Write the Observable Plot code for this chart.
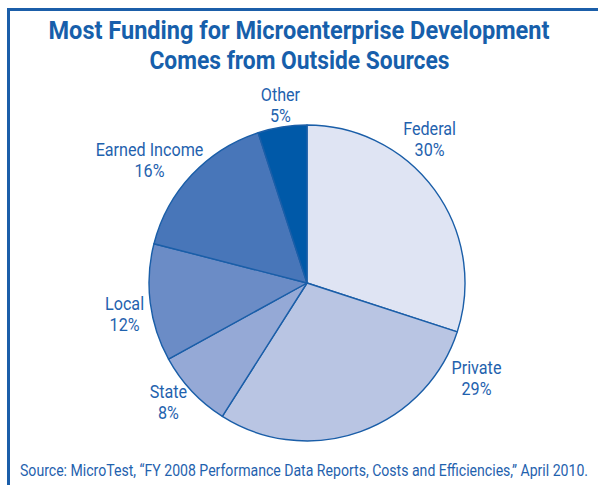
<!DOCTYPE html>
<html><head><meta charset="utf-8">
<script src="https://cdn.jsdelivr.net/npm/d3@7"></script>
<script src="https://cdn.jsdelivr.net/npm/@observablehq/plot@0.6"></script>
<style>
body{margin:0;background:#fff;}
#wrap{position:relative;width:598px;height:485px;overflow:hidden;font-family:Roboto,"DejaVu Sans Condensed",sans-serif;}
#frameTop{position:absolute;left:7px;top:8px;width:600px;height:3px;background:#1b5ea9;}
#frameLeft{position:absolute;left:7px;top:8px;width:3px;height:490px;background:#1b5ea9;}
.tl{position:absolute;left:0;width:598px;text-align:center;color:#175fab;font-weight:bold;font-size:26.5px;line-height:30px;white-space:nowrap;}
.tl span{display:inline-block;transform-origin:50% 50%;}
#chart{position:absolute;left:0;top:80px;}
#source{position:absolute;left:20px;top:461px;color:#1f62ae;font-size:16px;line-height:20px;white-space:nowrap;transform-origin:0 50%;}
</style></head>
<body>
<div id="wrap">
<div id="frameTop"></div><div id="frameLeft"></div>
<div class="tl" id="t1" style="top:15px"><span>Most Funding for Microenterprise Development</span></div>
<div class="tl" id="t2" style="top:45px"><span>Comes from Outside Sources</span></div>
<div id="chart"></div>
<div id="source">Source: MicroTest, “FY 2008 Performance Data Reports, Costs and Efficiencies,” April 2010.</div>
</div>
<script>
const categories = ["Federal", "Private", "State", "Local", "Earned Income", "Other"];
const values = [30, 29, 8, 12, 16, 5];
const colors = ["#dfe4f3", "#b9c5e3", "#95a9d6", "#6b8cc6", "#4876b9", "#0059a8"];
// label placement (polar: degrees clockwise from top, radius multiple)
const labelAngle = [40.2, 119.1, 229.7, 260.5, 308, 351.4];
const labelRadius = [1.197, 1.224, 1.154, 1.174, 1.269, 1.146];

// fit condensed-looking text widths
function fitWidth(el, target) {
  const w = el.getBoundingClientRect().width;
  el.style.transform = `scaleX(${target / w})`;
}
fitWidth(document.querySelector("#t1 span"), 501);
fitWidth(document.querySelector("#t2 span"), 300);
fitWidth(document.getElementById("source"), 568);

const W = 598, H = 380, R = 158, cx = 307, cy = 203;
const pie = d3.pie().sort(null).value(d => d.value)(categories.map((c, i) => ({name: c, value: values[i]})));
const slices = pie.map(p => ({name: p.data.name, startAngle: p.startAngle, endAngle: p.endAngle}));

const labels = categories.map((c, i) => {
  const a = labelAngle[i] * Math.PI / 180;
  return {text: c + "\n" + values[i] + "%", x: labelRadius[i] * Math.sin(a), y: labelRadius[i] * Math.cos(a)};
});

const arcMark = (index, scales) => {
  const g = d3.create("svg:g");
  const ox = scales.x(0), oy = scales.y(0), r = scales.x(1) - scales.x(0);
  const arc = d3.arc().innerRadius(0).outerRadius(r);
  g.selectAll("path").data(slices).join("path")
    .attr("transform", `translate(${ox},${oy})`)
    .attr("d", d => arc(d))
    .attr("fill", d => scales.color(d.name))
    .attr("stroke", "#1a5ea8")
    .attr("stroke-width", 1.4)
    .attr("stroke-linejoin", "round");
  return g.node();
};

const plot = Plot.plot({
  width: W, height: H,
  margin: 0,
  x: {domain: [-cx / R, (W - cx) / R], range: [0, W], axis: null},
  y: {domain: [-(H - cy) / R, cy / R], range: [H, 0], axis: null},
  color: {domain: categories, range: colors},
  style: {fontFamily: 'Roboto,"DejaVu Sans Condensed",sans-serif', background: "transparent"},
  marks: [
    arcMark,
    Plot.text(labels, {x: "x", y: "y", text: "text", fill: "#1f62ae", fontSize: 19, lineHeight: 1.1})
  ]
});
document.getElementById("chart").appendChild(plot);
plot.querySelectorAll("g[aria-label='text'] text").forEach(t => {
  const tr = t.getAttribute("transform") || "";
  t.setAttribute("transform", tr + " scale(0.85,1)");
});
</script>
</body></html>
